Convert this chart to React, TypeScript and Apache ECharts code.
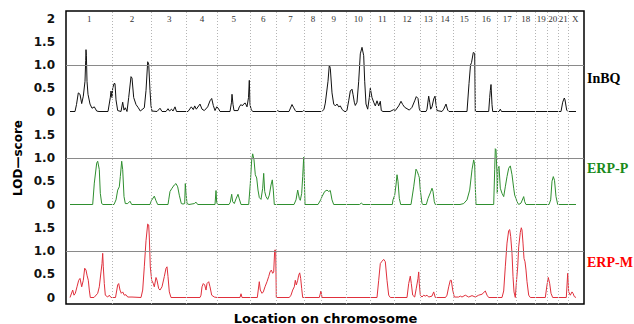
import React, { useEffect, useRef } from "react";
import * as echarts from "echarts";

// chromosome boundaries along the genome (location units)
const chromBounds = [0, 46.3, 85.7, 120.7, 151.3, 184, 210.7, 238.3, 255.7, 280, 304.7, 328, 354, 370.7, 387.3, 409, 431.7, 450.7, 469, 481.3, 492.3, 502.3, 516];
const chromNames = ["1","2","3","4","5","6","7","8","9","10","11","12","13","14","15","16","17","18","19","20","21","X"];
const yTicks = [0, 0.5, 1, 1.5, 2];
const threshold = 1.0;

// LOD-score profiles: [location, LOD]
const inbqData = [
  [4,0],[9,0],[10.5,0.15],[12.3,0.4],[14,0.37],[15.7,0.17],[17.3,0.33],[19,0.65],[19.7,1.1],[20,1.33],[20.4,1.2],[21,0.65],[22,0.37],[24,0.16],[26,0.07],[28.3,0.1],[30.7,0.01],[33,0],[42,0],
  [42.7,0],[44.3,0.3],[45,0.44],[46,0.3],[46.7,0.5],[48,0.6],[49,0.6],[50,0.25],[51.7,0.02],[55,0],[56.7,0.2],[58,0.03],[59.3,0.08],[61,0],[62.7,0.3],[65,0.75],[66,0.72],[67.7,0.3],[70,0.15],[72.3,0.08],[74.3,0.01],[78.3,0.08],[80,0.45],[81.7,1.07],[82.7,1.02],[84,0.45],[85,0.12],[86,0.01],
  [91,0],[94,0.07],[96,0],[100,0],[102,0.06],[103.5,0.01],[105.5,0.05],[107,0.01],[109,0.1],[110.5,0],[120,0],
  [122,0],[125.3,0.1],[127.3,0.04],[128.7,0.12],[130.3,0.05],[134,0.16],[136,0.05],[138.3,0.02],[141.7,0.1],[144,0.23],[145.7,0.28],[147.3,0.13],[149,0.02],[150.7,0.1],[152.3,0.07],[154,0],
  [164,0],[165.5,0.2],[166,0.37],[167,0.15],[168,0.02],[172,0.02],[173.3,0.1],[175,0.15],[176.3,0.12],[178,0.17],[179.3,0.18],[181,0.1],[182.5,0.3],[183.3,0.67],[184,0.15],[185.3,0.03],[187,0],
  [210.5,0],[211.7,0.02],[213,0],[223,0],[226,0.15],[227.7,0.08],[229.3,0.02],[230,0],[236.5,0],[237.7,0.02],[239,0],
  [256,0],[258,0.05],[259.3,0.18],[262,0.65],[263.3,1.0],[264.3,0.93],[266,0.4],[267.7,0.16],[269.3,0.12],[271,0.16],[272.7,0.1],[274.3,0.12],[276,0.05],[277.7,0.01],[279,0],
  [280,0],[281,0.03],[282.7,0.23],[284.3,0.44],[286,0.48],[287,0.37],[288.3,0.2],[289.3,0.13],[291,0.2],[292.7,0.65],[294.3,1.24],[296,1.38],[297.7,1.2],[298.7,0.65],[300,0.16],[301.7,0.05],[303.3,0.3],[304.3,0.5],[306,0.3],[307.7,0.2],[309.3,0.12],[311,0.23],[312.7,0.12],[314.3,0.22],[315.3,0.02],[317,0],
  [324,0],[327.7,0.04],[329.3,0.02],[332.7,0.12],[335,0.22],[336.7,0.15],[338.7,0.09],[341,0.06],[343.3,0.03],[346,0.09],[348.7,0.23],[350.3,0.32],[352,0.28],[353.3,0.06],[354.5,0],
  [360,0],[361,0.05],[362.7,0.33],[363.7,0.2],[364.7,0.05],[366,0.1],[367.7,0.27],[369,0.33],[370,0.15],[371,0.02],[376,0],[377.7,0.05],[380,0.16],[381.7,0.03],[383,0],
  [401,0],[403,0.6],[404.5,1.0],[405.5,1.05],[407.3,1.27],[408.7,1.25],[409.3,0],
  [422.7,0],[423.7,0.3],[424.3,0.45],[425,0.58],[426,0.15],[426.7,0],[433,0],[434.3,0.05],[435.5,0],
  [495,0],[496.7,0.2],[498.3,0.29],[499,0.25],[500.7,0.03],[502,0],[510,0]
];

const erpPData = [
  [4,0],[26.7,0],[28.3,0.46],[30.7,0.89],[31.7,0.93],[33.3,0.75],[34.3,0.24],[35.7,0.02],[37,0],
  [48,0],[50,0.1],[51.7,0.31],[53.3,0.38],[54.3,0.6],[55.7,0.93],[56.7,0.75],[58,0.17],[59.3,0.02],[61.7,0.02],[64,0.07],[65.7,0],
  [84,0],[85.3,0.08],[88.3,0.18],[90,0.08],[91.7,0],[102,0],[102.7,0.1],[104,0.28],[106,0.35],[108.3,0.42],[110,0.45],[111.7,0.38],[113.3,0.2],[115.3,0.02],[117,0.01],[118.7,0.02],[119.3,0.45],[120,0.25],[121,0.02],[123,0],[128.3,0.02],[130,0.05],[131.7,0],
  [149,0],[150,0.3],[150.7,0.05],[151.5,0],
  [163,0],[164.3,0.05],[165.7,0.22],[166.7,0.06],[168.3,0.02],[170,0.12],[172,0.22],[173.3,0.12],[175,0],
  [182.7,0],[184.3,0.45],[185.7,0.96],[186.7,1.09],[188,0.96],[189.3,0.64],[190.7,0.57],[192,0.31],[193.3,0.15],[195,0.11],[196.7,0.35],[197.7,0.67],[198.7,0.28],[200,0.17],[201.7,0.11],[203.3,0.2],[205,0.42],[206.3,0.53],[207.3,0.31],[208.3,0],
  [228,0],[230,0.1],[231.7,0.31],[233.3,0.13],[234.3,0.09],[235.7,0.24],[236.7,0.6],[237.7,1.02],[238.3,0.6],[239,0],
  [252,0],[254.7,0.1],[256,0.17],[258.7,0.28],[261,0.31],[262.7,0.28],[264.3,0.3],[266,0.1],[267.7,0],
  [293.5,0],[295.3,0.03],[297,0],
  [326.3,0],[327,0.1],[328.7,0.2],[330,0.42],[331,0.64],[332,0.5],[333.3,0.13],[334.7,0],
  [345,0],[347.7,0.38],[350,0.76],[351.3,0.71],[352.7,0.62],[353.3,0.58],[354.3,0.31],[356,0.02],[357,0],
  [360.3,0],[362,0.13],[364.3,0.25],[366,0.35],[367,0.28],[368.3,0.06],[369.3,0],
  [394,0],[397.7,0.02],[401,0.1],[403.7,0.31],[406,0.75],[407.7,0.96],[408.7,0.85],[409.3,0.38],[410,0],
  [427.7,0],[428.7,0.75],[429.3,1.2],[430,1.18],[431,0.64],[431.3,0.24],[432,0.78],[433,0.82],[434.3,0.35],[436,0.24],[437.7,0.17],[439.3,0.38],[441,0.6],[442.7,0.78],[444.3,0.83],[446,0.64],[447.7,0.35],[448.7,0.2],[450,0.13],[451,0.06],[452.7,0],[455,0.03],[457.7,0.17],[458.7,0.06],[460,0],
  [483,0],[484.7,0.1],[486,0.5],[487.3,0.6],[488.5,0.52],[490,0.17],[491.7,0],[510,0]
];

const erpMData = [
  [4,0],[6.7,0.16],[8,0.05],[9.3,0.09],[11,0.23],[12.7,0.37],[14,0.41],[15.7,0.23],[17.3,0.37],[18.7,0.63],[20,0.59],[21,0.48],[22.3,0.37],[23.3,0.16],[24.3,0],[28,0],[31.7,0.09],[33.3,0.23],[35,0.55],[36,0.73],[36.7,0.95],[37.3,0.66],[38.3,0.3],[39.3,0.05],[41.7,0.01],[43.3,0.05],[45,0],
  [49.5,0],[51.7,0.27],[52.7,0.3],[54,0.16],[55.3,0.09],[56.7,0.12],[58.3,0.05],[60,0.06],[61.7,0.01],[66,0.01],[75,0],[76.7,0.16],[78.3,0.66],[80,1.22],[81.7,1.58],[82.7,1.56],[83.3,1.3],[84.3,0.66],[85.7,0.37],[87.3,0.3],[88.3,0.23],[90,0.43],[91,0.37],[92.7,0.19],[94,0.16],[96,0.23],[98.3,0.45],[100,0.63],[101,0.66],[102,0.45],[103.3,0.12],[105,0],
  [134,0],[135,0.05],[136,0.23],[137.3,0.3],[138.7,0.27],[140,0.16],[141,0.3],[142.7,0.34],[144,0.23],[145.7,0.05],[148.3,0.01],[151,0],
  [174,0],[175,0.08],[176,0],
  [191.3,0],[193.3,0.34],[194.3,0.16],[196,0.09],[197.3,0.12],[199,0.23],[201,0.34],[202.7,0.45],[204,0.55],[205.3,0.59],[206.7,0.52],[207.7,0.55],[208.7,1.02],[209.7,1.02],[210.3,0],
  [223.3,0],[225,0.05],[226.7,0.16],[228.3,0.23],[229.3,0.37],[230.3,0.27],[231.7,0.37],[232.7,0.48],[233.7,0.53],[234.7,0.41],[235.7,0.19],[236.7,0],
  [253.3,0],[255,0.14],[256,0],
  [311,0],[312.7,0.37],[314.3,0.73],[316,0.78],[317.7,0.82],[319.3,0.77],[321,0.37],[322.7,0.05],[324.3,0],
  [341,0],[342.7,0.3],[344.3,0.46],[345.3,0.3],[346.7,0.05],[348.7,0.01],[350.3,0.2],[352,0.41],[352.7,0.55],[353.3,0.3],[354.3,0.05],[356,0.01],[357.7,0.05],[359.3,0.03],[361,0.05],[362.7,0.01],[366,0.03],[367.7,0.12],[369.3,0],
  [379.5,0],[381,0.05],[382.7,0.23],[384.3,0.37],[385.3,0.37],[386.7,0.16],[388.3,0.01],[392.7,0.01],[394.3,0.03],[396,0.01],[399.3,0.05],[402.7,0.01],[406,0.04],[409.3,0.01],[412.7,0.05],[416,0.07],[419.3,0.14],[421,0.05],[422.7,0],
  [436,0],[437.7,0.14],[439.3,0.66],[441,1.17],[442.7,1.44],[443.7,1.46],[444.7,1.31],[446,0.95],[447,0.45],[448,0.12],[449.3,0],[450.3,0.3],[451.7,0.66],[452.7,1.09],[454.3,1.4],[455.3,1.5],[456,1.45],[457,1.17],[458,0.84],[459,0.77],[460,0.59],[461,0.34],[462.7,0.05],[464.3,0],
  [479.3,0],[481,0.27],[482.3,0.43],[483.7,0.3],[485,0.09],[486.7,0],
  [500.3,0],[501.7,0.52],[502.7,0.12],[504.3,0.05],[506,0.12],[507,0.09],[508.3,0.02],[510,0]
];

const panels = [
  { name: "InBQ", data: inbqData, line: "#111111", label: "#000000" },
  { name: "ERP-P", data: erpPData, line: "#2f8f2f", label: "#1a8a1a" },
  { name: "ERP-M", data: erpMData, line: "#e0303c", label: "#ff0000" },
];

const X_MAX = 518;

export default function App() {
  const ref = useRef<HTMLDivElement>(null);
  useEffect(() => {
    document.body.style.margin = "0";
    if (!ref.current) return;
    const chart = echarts.init(ref.current, null, { renderer: "svg" });
    const left = 66;
    const width = 518;
    const panelH = 93;
    const panelTops = [18.5, 111.5, 204.5];
    const centers = chromNames.map((_, i) => (chromBounds[i] + chromBounds[i + 1]) / 2);
    const innerBounds = chromBounds.slice(1, chromBounds.length - 1);

    const grids: any[] = panelTops.map((t) => ({ left, width, top: t, height: panelH }));
    grids.push({ left, width, top: 11, height: 293, show: true, borderColor: "#000", borderWidth: 1.5, backgroundColor: "transparent" });

    const xAxes: any[] = [0, 1, 2].map((i) => ({ gridIndex: i, type: "value", min: 0, max: X_MAX, show: false }));
    xAxes.push({
      gridIndex: 3, type: "value", min: 0, max: X_MAX, position: "top",
      axisLine: { show: false }, axisTick: { show: false }, splitLine: { show: false },
      axisLabel: {
        inside: true, margin: 3, customValues: centers, hideOverlap: false,
        fontFamily: "Liberation Serif", fontSize: 9, color: "#333",
        formatter: (v: number) => {
          const idx = centers.findIndex((c) => Math.abs(c - v) < 0.01);
          return idx >= 0 ? chromNames[idx] : "";
        },
      },
    });

    const yAxes: any[] = [0, 1, 2].map((i) => ({
      gridIndex: i, type: "value", min: 0, max: 2, interval: 0.5,
      axisLine: { show: false }, axisTick: { show: false }, splitLine: { show: false },
      axisLabel: {
        margin: 11, fontFamily: "DejaVu Sans", fontWeight: "bold", fontSize: 12, color: "#111",
        formatter: (v: number) => {
          if (!yTicks.includes(v)) return "";
          if (v === 2) return i === 0 ? "2" : "";
          if (v === 0) return "0";
          return v.toFixed(1);
        },
      },
    }));
    yAxes.push({ gridIndex: 3, type: "value", min: 0, max: 1, show: false });

    const series: any[] = [
      {
        type: "line", xAxisIndex: 3, yAxisIndex: 3, data: [], z: 1, silent: true,
        markLine: {
          silent: true, symbol: "none", label: { show: false },
          lineStyle: { color: "#b4b4b4", type: [1, 2], width: 1 },
          data: innerBounds.map((b) => ({ xAxis: b })),
        },
      },
    ];
    panels.forEach((p, i) => {
      series.push({
        type: "line", name: p.name, xAxisIndex: i, yAxisIndex: i, data: p.data,
        symbol: "none", showSymbol: false, z: 3,
        lineStyle: { color: p.line, width: 1 }, itemStyle: { color: p.line },
        markLine: {
          silent: true, symbol: "none", label: { show: false },
          lineStyle: { color: "#8a8a8a", type: "solid", width: 1 },
          data: [{ yAxis: threshold }],
        },
      });
    });

    const labelYs = [78, 168, 262];
    const graphic: any[] = panels.map((p, i) => ({
      type: "text", x: 587, y: labelYs[i],
      style: { text: p.name, font: 'bold 14px "Liberation Serif"', fill: p.label, align: "left", verticalAlign: "middle" },
    }));
    graphic.push({
      type: "text", x: 18, y: 158, rotation: Math.PI / 2,
      style: { text: "LOD—score", font: 'bold 12px "DejaVu Sans"', fill: "#000", align: "center", verticalAlign: "middle" },
    });
    graphic.push({
      type: "text", x: 325.5, y: 318,
      style: { text: "Location on chromosome", font: 'bold 13px "DejaVu Sans"', fill: "#000", align: "center", verticalAlign: "middle" },
    });

    chart.setOption({
      animation: false,
      backgroundColor: "#ffffff",
      grid: grids,
      xAxis: xAxes,
      yAxis: yAxes,
      series,
      graphic,
    });
    return () => chart.dispose();
  }, []);
  return <div ref={ref} style={{ width: 634, height: 324 }} />;
}
